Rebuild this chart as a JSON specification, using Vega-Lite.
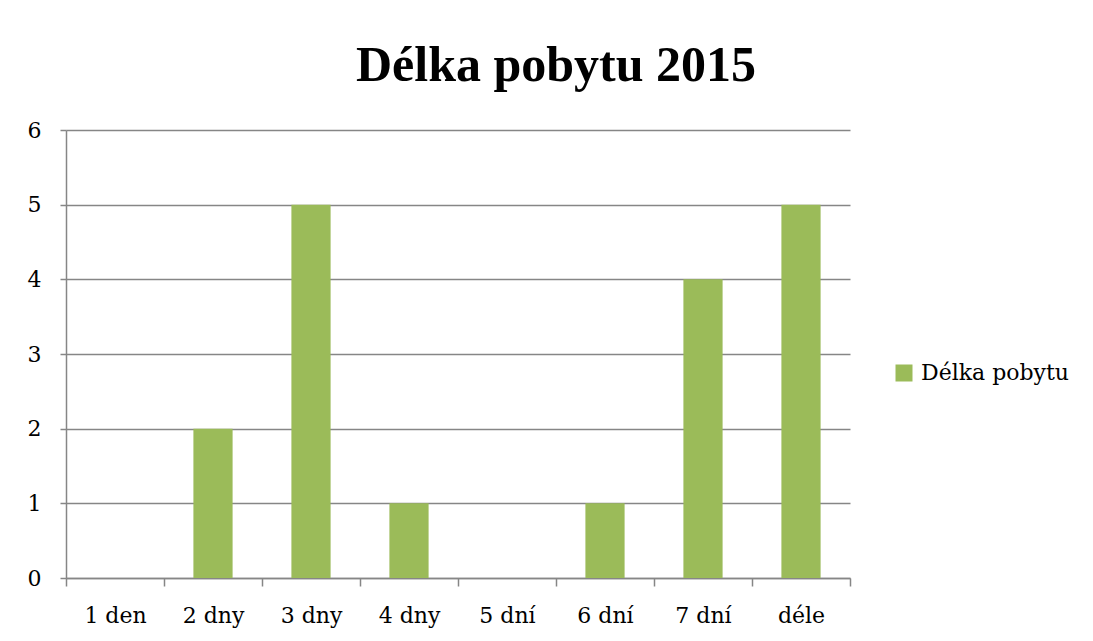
{
  "$schema": "https://vega.github.io/schema/vega-lite/v6.json",
  "autosize": {"type": "none"},
  "width": 784,
  "height": 448,
  "padding": {"left": 66, "top": 130, "right": 243, "bottom": 63},
  "background": "white",
  "title": {
    "text": "Délka pobytu 2015",
    "font": "Liberation Serif",
    "fontSize": 50,
    "fontWeight": "bold",
    "color": "#000000",
    "anchor": "middle",
    "dx": 98,
    "offset": 28
  },
  "data": {
    "values": [
      {"kategorie": "1 den", "pocet": 0, "serie": "Délka pobytu"},
      {"kategorie": "2 dny", "pocet": 2, "serie": "Délka pobytu"},
      {"kategorie": "3 dny", "pocet": 5, "serie": "Délka pobytu"},
      {"kategorie": "4 dny", "pocet": 1, "serie": "Délka pobytu"},
      {"kategorie": "5 dní", "pocet": 0, "serie": "Délka pobytu"},
      {"kategorie": "6 dní", "pocet": 1, "serie": "Délka pobytu"},
      {"kategorie": "7 dní", "pocet": 4, "serie": "Délka pobytu"},
      {"kategorie": "déle", "pocet": 5, "serie": "Délka pobytu"}
    ]
  },
  "mark": {"type": "bar", "width": {"band": 0.4}},
  "encoding": {
    "x": {
      "field": "kategorie",
      "type": "nominal",
      "sort": null,
      "title": null,
      "scale": {"paddingInner": 0, "paddingOuter": 0},
      "axis": {
        "labelAngle": 0,
        "labelFont": "DejaVu Serif",
        "labelFontSize": 22,
        "labelColor": "#000000",
        "labelPadding": 19,
        "tickBand": "extent",
        "tickSize": 8,
        "tickColor": "#868686",
        "domainColor": "#868686",
        "grid": false
      }
    },
    "y": {
      "field": "pocet",
      "type": "quantitative",
      "title": null,
      "scale": {"domain": [0, 6], "nice": false},
      "axis": {
        "values": [0, 1, 2, 3, 4, 5, 6],
        "labelFont": "DejaVu Serif",
        "labelFontSize": 22,
        "labelColor": "#000000",
        "labelPadding": 19,
        "tickSize": 6,
        "tickColor": "#868686",
        "domainColor": "#868686",
        "grid": true,
        "gridColor": "#868686",
        "gridOpacity": 1
      }
    },
    "color": {
      "field": "serie",
      "type": "nominal",
      "scale": {"range": ["#9BBB59"]},
      "legend": {
        "title": null,
        "orient": "none",
        "legendX": 827,
        "legendY": 232,
        "symbolType": "square",
        "symbolSize": 289,
        "symbolStrokeWidth": 0,
        "symbolOpacity": 1,
        "labelFont": "DejaVu Serif",
        "labelFontSize": 22,
        "labelLimit": 400,
        "labelColor": "#000000",
        "labelOffset": 6
      }
    }
  },
  "config": {
    "view": {"stroke": null},
    "axis": {"domainWidth": 1.5, "tickWidth": 1.5, "gridWidth": 1.5}
  }
}
